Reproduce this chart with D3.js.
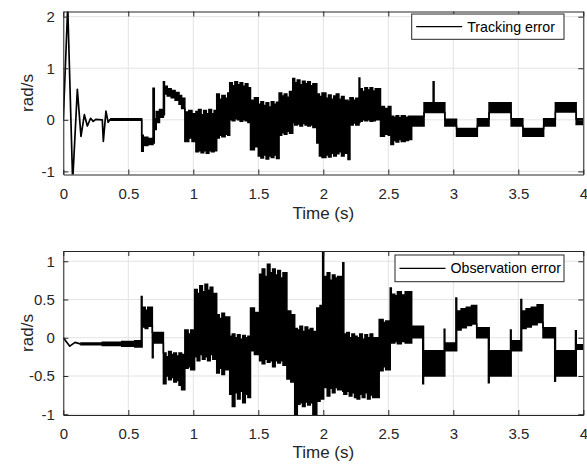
<!DOCTYPE html>
<html><head><meta charset="utf-8">
<script src="https://cdn.jsdelivr.net/npm/d3@7"></script>
<style>body{margin:0;background:#fff;} svg{display:block;font-family:"Liberation Sans",Arial,Helvetica,sans-serif;}</style>
</head><body><svg id="c" width="587" height="466"></svg>
<script>
// ---------- data ----------
const xTicks = [0, 0.5, 1, 1.5, 2, 2.5, 3, 3.5, 4];
const xTickLabels = ["0", "0.5", "1", "1.5", "2", "2.5", "3", "3.5", "4"];
const topYTicks = [-1, 0, 1, 2];
const topYTickLabels = ["-1", "0", "1", "2"];
const botYTicks = [-1, -0.5, 0, 0.5, 1];
const botYTickLabels = ["-1", "-0.5", "0", "0.5", "1"];
const xLabel = "Time (s)";
const yLabel = "rad/s";
const topLegend = "Tracking error";
const botLegend = "Observation error";

// Tracking error: initial transient (single trace)
const topInitTime  = [0, 0.034, 0.072, 0.108, 0.136, 0.162, 0.185, 0.21, 0.23, 0.25, 0.30, 0.308, 0.328, 0.345, 0.36];
const topInitValue = [0, 2.2, -1.2, 0.59, -0.32, 0.10, -0.12, 0.03, -0.03, 0.01, 0.0, -0.42, 0.17, -0.05, 0.01];
// Tracking error: noisy band, value held from each time to the next (upper / lower envelope)
const topBandTime = [0.36, 0.603, 0.615, 0.65, 0.69, 0.70, 0.715, 0.74, 0.77, 0.778, 0.80, 0.83, 0.86, 0.89, 0.91,
  0.935, 0.965, 0.99, 1.02, 1.04, 1.06, 1.08, 1.10, 1.12, 1.14, 1.16, 1.18, 1.20, 1.22, 1.245, 1.265,
  1.28, 1.30, 1.32, 1.34, 1.36, 1.38, 1.40, 1.42, 1.44, 1.47, 1.50, 1.52, 1.54, 1.56, 1.58, 1.60, 1.62, 1.64,
  1.66, 1.68, 1.70, 1.72, 1.74, 1.765, 1.78, 1.80, 1.82, 1.84, 1.86, 1.88, 1.90, 1.92, 1.95, 1.97, 1.99,
  2.02, 2.04, 2.06, 2.08, 2.10, 2.12, 2.14, 2.16, 2.19, 2.205, 2.23, 2.25, 2.275, 2.281, 2.30, 2.32, 2.34,
  2.36, 2.38, 2.40, 2.44, 2.47, 2.50, 2.52, 2.54, 2.56, 2.58, 2.60, 2.63, 2.655, 2.68, 2.775, 2.845, 2.852,
  2.935, 3.025, 3.185, 3.275, 3.445, 3.535, 3.695, 3.785, 3.945, 4.0];
const topBandUpper = [0.02, -0.3, -0.34, -0.36, 0.61, 0.02, 0.16, 0.2, 0.74, 0.65, 0.6, 0.57, 0.53, 0.47, 0.42,
  0.15, 0.18, 0.12, 0.16, 0.2, 0.10, 0.18, 0.12, 0.2, 0.12, 0.18, 0.5, 0.4, 0.47, 0.42, 0.52,
  0.72, 0.66, 0.74, 0.68, 0.72, 0.65, 0.7, 0.62, 0.38, 0.43, 0.3, 0.35, 0.28, 0.33, 0.25, 0.35, 0.3, 0.34,
  0.52, 0.46, 0.5, 0.44, 0.55, 0.8, 0.72, 0.77, 0.68, 0.75, 0.7, 0.74, 0.66, 0.7, 0.5, 0.45, 0.52,
  0.42, 0.48, 0.4, 0.46, 0.5, 0.4, 0.45, 0.38, 0.35, 0.43, 0.38, 0.42, 0.81, 0.6, 0.55, 0.62, 0.58,
  0.62, 0.56, 0.6, 0.26, 0.22, 0.26, 0.07, 0.05, 0.08, 0.04, 0.08, 0.05, 0.07, 0.07, 0.33, 0.74, 0.33,
  0.01, -0.17, 0.02, 0.33, 0.02, -0.17, 0.02, 0.33, 0.02, 0.02];
const topBandLower = [-0.01, -0.61, -0.5, -0.48, -0.45, -0.19, -0.05, 0.05, 0.1, 0.5, 0.46, 0.43, 0.38, 0.3, 0.22,
  -0.42, -0.35, -0.42, -0.62, -0.6, -0.64, -0.6, -0.65, -0.6, -0.62, -0.6, -0.35, -0.3, -0.33, -0.28, -0.3,
  0.0, -0.02, 0.02, 0.0, -0.03, 0.0, -0.02, -0.05, -0.58, -0.52, -0.7, -0.74, -0.68, -0.76, -0.7, -0.73, -0.68, -0.75,
  -0.3, -0.25, -0.28, -0.22, -0.26, -0.05, -0.1, -0.08, -0.12, -0.07, -0.1, -0.12, -0.1, -0.15, -0.45, -0.7, -0.73,
  -0.68, -0.72, -0.65, -0.7, -0.66, -0.62, -0.7, -0.65, -0.77, -0.1, -0.06, -0.1, -0.05, -0.03, 0.0, -0.02, 0.0,
  -0.03, -0.02, 0.0, -0.32, -0.28, -0.3, -0.48, -0.4, -0.43, -0.38, -0.42, -0.4, -0.38, -0.12, 0.14, 0.14, 0.14,
  -0.12, -0.32, -0.12, 0.14, -0.12, -0.32, -0.12, 0.15, -0.09, -0.09];

// Observation error: initial transient (single trace)
const botInitTime  = [0, 0.05, 0.09, 0.13];
const botInitValue = [0, -0.11, -0.06, -0.08];
// Observation error: noisy band, value held from each time to the next (upper / lower envelope)
const botBandTime = [0.13, 0.3, 0.45, 0.55, 0.6, 0.606, 0.63, 0.65, 0.685, 0.691,
  0.77, 0.79, 0.81, 0.83, 0.85, 0.87, 0.89, 0.91, 0.935, 0.96, 0.98,
  1.01, 1.03, 1.05, 1.07, 1.09, 1.11, 1.13, 1.15, 1.18, 1.20, 1.22, 1.24,
  1.28, 1.30, 1.32, 1.34, 1.36, 1.38, 1.40, 1.42, 1.44, 1.47,
  1.51, 1.53, 1.55, 1.57, 1.59, 1.61, 1.63, 1.65, 1.67, 1.69, 1.72, 1.75,
  1.78, 1.80, 1.82, 1.84, 1.86, 1.88, 1.90, 1.92, 1.95, 1.975, 1.995, 2.003,
  2.03, 2.05, 2.07, 2.09, 2.11, 2.15, 2.158, 2.18, 2.20, 2.22, 2.24, 2.26, 2.28, 2.30, 2.32, 2.34, 2.36, 2.38,
  2.43, 2.46, 2.48, 2.515, 2.523, 2.55, 2.57, 2.60, 2.63, 2.68, 2.765, 2.771,
  2.93, 2.935, 3.02, 3.026, 3.06, 3.10, 3.14, 3.18, 3.27, 3.276, 3.44, 3.445,
  3.52, 3.526, 3.56, 3.60, 3.645, 3.69, 3.78, 3.786, 3.94, 3.946, 4.0];
const botBandUpper = [-0.07, -0.06, -0.05, -0.04, 0.54, 0.4, 0.36, 0.4, 0.07, 0.07,
  -0.2, -0.25, -0.18, -0.22, -0.2, -0.24, -0.2, -0.22, 0.1, 0.05, 0.1,
  0.63, 0.58, 0.68, 0.6, 0.7, 0.62, 0.66, 0.58, 0.3, 0.25, 0.32, 0.27,
  0.02, 0.05, 0.0, 0.04, -0.02, 0.03, 0.0, 0.02, 0.39, 0.33,
  0.83, 0.9, 0.8, 0.96, 0.85, 0.9, 0.82, 0.88, 0.78, 0.85, 0.35, 0.3,
  0.12, 0.1, 0.15, 0.08, 0.14, 0.1, 0.12, 0.08, 0.39, 0.42, 1.2, 0.8,
  0.85, 0.75, 0.82, 0.78, 0.8, 0.98, 0.05, 0.07, 0.0, 0.05, 0.02, 0.0, 0.05, -0.02, 0.04, 0.0, 0.05, 0.0,
  0.24, 0.2, 0.22, 0.65, 0.57, 0.55, 0.6, 0.56, 0.6, 0.15, 0.15, -0.17,
  0.11, -0.07, 0.52, 0.35, 0.38, 0.4, 0.42, 0.13, 0.13, -0.17, 0.1, -0.04,
  0.5, 0.35, 0.38, 0.4, 0.43, 0.13, 0.13, -0.17, 0.09, -0.09, -0.09];
const botBandLower = [-0.09, -0.1, -0.11, -0.12, -0.12, 0.14, 0.12, 0.15, -0.26, -0.07,
  -0.6, -0.5, -0.55, -0.52, -0.58, -0.56, -0.62, -0.68, -0.4, -0.38, -0.42,
  -0.25, -0.3, -0.22, -0.28, -0.25, -0.3, -0.22, -0.28, -0.46, -0.4, -0.48, -0.42,
  -0.74, -0.9, -0.72, -0.8, -0.7, -0.85, -0.74, -0.78, -0.17, -0.22,
  -0.3, -0.34, -0.28, -0.32, -0.3, -0.38, -0.3, -0.33, -0.3, -0.36, -0.54, -0.58,
  -1.0, -0.87, -0.85, -0.9, -0.84, -0.88, -0.85, -1.0, -0.83, -0.8, -0.8, -0.65,
  -0.76, -0.66, -0.72, -0.65, -0.68, -0.7, -0.74, -0.7, -0.76, -0.72, -0.78, -0.8, -0.74, -0.78, -0.72, -0.8, -0.75, -0.78,
  -0.43, -0.38, -0.42, -0.07, -0.07, -0.05, -0.08, -0.05, -0.07, 0.0, -0.6, -0.5,
  -0.5, -0.17, -0.17, 0.1, 0.13, 0.16, 0.18, 0.0, -0.59, -0.5, -0.5, -0.17,
  -0.17, 0.12, 0.14, 0.17, 0.2, 0.0, -0.57, -0.5, -0.5, -0.15, -0.15];

// ---------- drawing ----------
const svg = d3.select("#c");
svg.append("rect").attr("width", 587).attr("height", 466).attr("fill", "#fff");
const axisColor = "#262626";
const gridColor = "#e3e3e3";
const x = d3.scaleLinear().domain([0, 4]).range([63.3, 583.3]);

const panels = [
  {id: "p1", top: 11.5, bottom: 174.5, yDomain: [-1.06, 2.1], yTicks: topYTicks, yLabels: topYTickLabels,
   initT: topInitTime, initV: topInitValue, time: topBandTime, upper: topBandUpper, lower: topBandLower,
   legend: topLegend, leg: {x0: 411.7, x1: 564, y0: 14, y1: 39.3}, xlabY: 219},
  {id: "p2", top: 251, bottom: 415, yDomain: [-1.01, 1.134], yTicks: botYTicks, yLabels: botYTickLabels,
   initT: botInitTime, initV: botInitValue, time: botBandTime, upper: botBandUpper, lower: botBandLower,
   legend: botLegend, leg: {x0: 395, x1: 564, y0: 255, y1: 281.7}, xlabY: 458}
];

panels.forEach(p => {
  const y = d3.scaleLinear().domain(p.yDomain).range([p.bottom, p.top]);
  const L = x.range()[0], R = x.range()[1];
  const g = svg.append("g");

  // grid
  g.append("g").selectAll("line").data(xTicks).join("line")
    .attr("x1", d => x(d)).attr("x2", d => x(d)).attr("y1", p.top).attr("y2", p.bottom)
    .attr("stroke", gridColor).attr("stroke-width", 1);
  g.append("g").selectAll("line").data(p.yTicks).join("line")
    .attr("x1", L).attr("x2", R).attr("y1", d => y(d)).attr("y2", d => y(d))
    .attr("stroke", gridColor).attr("stroke-width", 1);

  // clip
  svg.append("clipPath").attr("id", "clip-" + p.id).append("rect")
    .attr("x", L).attr("y", p.top).attr("width", R - L).attr("height", p.bottom - p.top);
  const sig = g.append("g").attr("clip-path", "url(#clip-" + p.id + ")");

  const initRows = p.initT.map((t, i) => ({t, v: p.initV[i]}));
  sig.append("path").datum(initRows)
    .attr("d", d3.line().x(d => x(d.t)).y(d => y(d.v)))
    .attr("fill", "none").attr("stroke", "#000").attr("stroke-width", 1.7).attr("stroke-linejoin", "round");

  const rows = p.time.map((t, i) => ({t, hi: p.upper[i], lo: p.lower[i]}));
  sig.append("path").datum(rows)
    .attr("d", d3.area().curve(d3.curveStepAfter).x(d => x(d.t)).y0(d => y(d.lo)).y1(d => y(d.hi)))
    .attr("fill", "#000");
  ["hi", "lo"].forEach(k => {
    sig.append("path").datum(rows)
      .attr("d", d3.line().curve(d3.curveStepAfter).x(d => x(d.t)).y(d => y(d[k])))
      .attr("fill", "none").attr("stroke", "#000").attr("stroke-width", 1.5);
  });

  // axes (inside ticks, MATLAB style)
  const xAxB = d3.axisBottom(x).tickValues(xTicks).tickFormat((d, i) => xTickLabels[i])
    .tickSizeInner(-5).tickSizeOuter(0).tickPadding(13.5);
  const gxb = g.append("g").attr("transform", `translate(0,${p.bottom})`).call(xAxB);
  const xAxT = d3.axisTop(x).tickValues(xTicks).tickFormat("").tickSizeInner(-5).tickSizeOuter(0);
  const gxt = g.append("g").attr("transform", `translate(0,${p.top})`).call(xAxT);
  const yAxL = d3.axisLeft(y).tickValues(p.yTicks).tickFormat((d, i) => p.yLabels[i])
    .tickSizeInner(-5).tickSizeOuter(0).tickPadding(8.5);
  const gyl = g.append("g").attr("transform", `translate(${L},0)`).call(yAxL);
  const yAxR = d3.axisRight(y).tickValues(p.yTicks).tickFormat("").tickSizeInner(-5).tickSizeOuter(0);
  const gyr = g.append("g").attr("transform", `translate(${R},0)`).call(yAxR);
  [gxb, gxt, gyl, gyr].forEach(a => {
    a.select(".domain").attr("stroke", axisColor).attr("stroke-width", 1);
    a.selectAll(".tick line").attr("stroke", axisColor).attr("stroke-width", 1);
    a.selectAll(".tick text").attr("fill", axisColor).style("font-size", "15px")
      .style("font-family", '"Liberation Sans", Arial, sans-serif');
  });

  // axis labels
  g.append("text").attr("x", (L + R) / 2).attr("y", p.xlabY).attr("text-anchor", "middle")
    .attr("fill", axisColor).style("font-size", "17px").text(xLabel);
  g.append("text").attr("transform", `translate(33,${(p.top + p.bottom) / 2}) rotate(-90)`)
    .attr("text-anchor", "middle").attr("fill", axisColor).style("font-size", "17px").text(yLabel);

  // legend
  const lg = p.leg;
  g.append("rect").attr("x", lg.x0).attr("y", lg.y0).attr("width", lg.x1 - lg.x0).attr("height", lg.y1 - lg.y0)
    .attr("fill", "#fff").attr("stroke", axisColor).attr("stroke-width", 1);
  const midY = (lg.y0 + lg.y1) / 2;
  g.append("line").attr("x1", lg.x0 + 4.5).attr("x2", lg.x0 + 50.5).attr("y1", midY).attr("y2", midY)
    .attr("stroke", "#000").attr("stroke-width", 1.3);
  g.append("text").attr("x", lg.x0 + 55.5).attr("y", midY + 5).attr("fill", "#000")
    .style("font-size", "14.2px").text(p.legend);
});
</script></body></html>
